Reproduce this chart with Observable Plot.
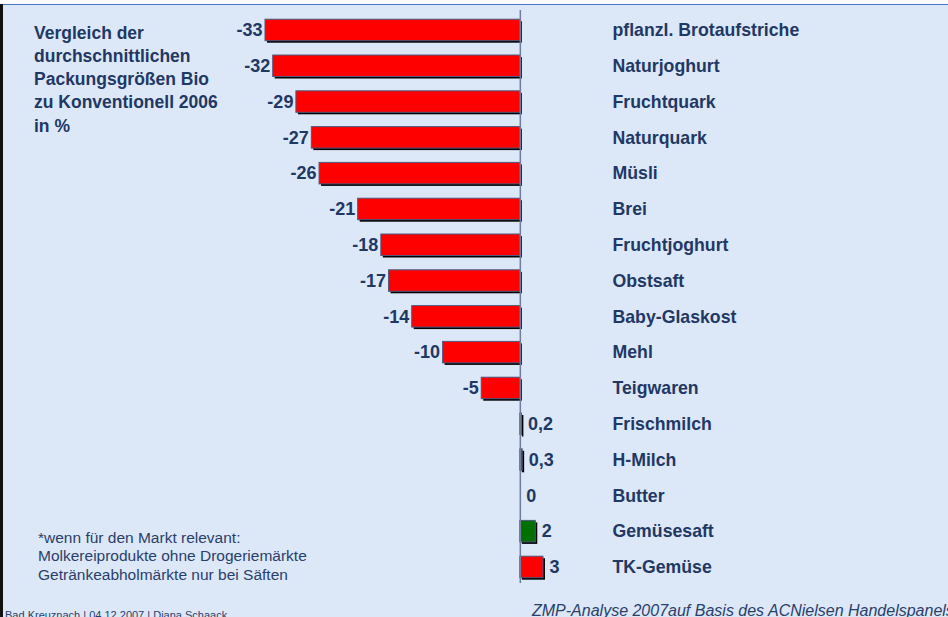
<!DOCTYPE html>
<html>
<head>
<meta charset="utf-8">
<script src="https://cdn.jsdelivr.net/npm/d3@7"></script>
<script src="https://cdn.jsdelivr.net/npm/@observablehq/plot@0.6"></script>
<style>
  html, body { margin: 0; padding: 0; }
  body { width: 948px; height: 617px; overflow: hidden; background: #ffffff; font-family: "Liberation Sans", Arial, sans-serif; }
  #stage { position: absolute; left: 0; top: 4px; width: 948px; height: 613px; background: #dce7f8; border-top: 1.5px solid #4a76c8; box-sizing: border-box; }
  #leftbar { position: absolute; left: 0; top: 4px; width: 3px; height: 613px; background: #111; }
  #chart { position: absolute; left: 0; top: 0; }
  .txt { position: absolute; color: #1f3864; white-space: nowrap; }
  #title { left: 34px; top: 21.5px; font-size: 17.5px; font-weight: bold; line-height: 23.3px; }
  #note { left: 38px; top: 529px; font-size: 15.5px; line-height: 18.3px; color: #2a3f6a; }
  #place { left: 5px; top: 609px; font-size: 11px; line-height: 12px; color: #2a3f6a; }
  #source { left: 532px; top: 600.5px; font-size: 16px; font-style: italic; line-height: 20px; color: #2a3f6a; }
  g[aria-label="y-axis tick label"] { font-weight: bold; }
</style>
</head>
<body>
<div id="stage"></div>
<div id="leftbar"></div>
<div id="chart"></div>
<div class="txt" id="title">Vergleich der<br>durchschnittlichen<br>Packungsgrößen Bio<br>zu Konventionell 2006<br>in %</div>
<div class="txt" id="note">*wenn für den Markt relevant:<br>Molkereiprodukte ohne Drogeriemärkte<br>Getränkeabholmärkte nur bei Säften</div>
<div class="txt" id="place">Bad Kreuznach | 04.12.2007 | Diana Schaack</div>
<div class="txt" id="source">ZMP-Analyse 2007auf Basis des ACNielsen Handelspanels</div>
<script>
const categories = ["pflanzl. Brotaufstriche","Naturjoghurt","Fruchtquark","Naturquark","Müsli","Brei","Fruchtjoghurt","Obstsaft","Baby-Glaskost","Mehl","Teigwaren","Frischmilch","H-Milch","Butter","Gemüsesaft","TK-Gemüse"];
const values = [-33,-32,-29,-27,-26,-21,-18,-17,-14,-10,-5,0.2,0.3,0,2,3];
const greenCategories = ["Gemüsesaft"];

const data = categories.map((c, i) => ({category: c, value: values[i]}));
const fmt = v => String(v).replace(".", ",");
const navy = "#1f3864";

const chart = Plot.plot({
  width: 948,
  height: 617,
  marginTop: 10,
  marginBottom: 34,
  marginLeft: 0,
  marginRight: 343,
  style: {background: "transparent", color: navy, fontFamily: "Liberation Sans, Arial, sans-serif"},
  x: {domain: [-33, 3], range: [265, 543], axis: null},
  y: {domain: categories, range: [4.9, 592], padding: 0.4, round: false, label: null},
  marks: [
    Plot.barX(data, {y: "category", x: "value", fill: "#000", dx: 2, dy: 2}),
    Plot.barX(data, {y: "category", x: "value",
      fill: d => greenCategories.includes(d.category) ? "#007000" : "#ff0000",
      stroke: "#4a5a80", strokeWidth: 1}),
    Plot.ruleX([0], {stroke: "#6d7f9c", strokeWidth: 1.5}),
    Plot.text(data.filter(d => d.value < 0), {y: "category", x: "value", text: d => fmt(d.value),
      textAnchor: "end", dx: -3, fontSize: 18, fontWeight: "bold", fill: navy}),
    Plot.text(data.filter(d => d.value >= 0), {y: "category", x: "value", text: d => fmt(d.value),
      textAnchor: "start", dx: 6, fontSize: 18, fontWeight: "bold", fill: navy}),
    Plot.axisY({anchor: "right", tickSize: 0, tickPadding: 7, fontSize: 17.7, label: null})
  ]
});
document.getElementById("chart").appendChild(chart);
</script>
</body>
</html>
